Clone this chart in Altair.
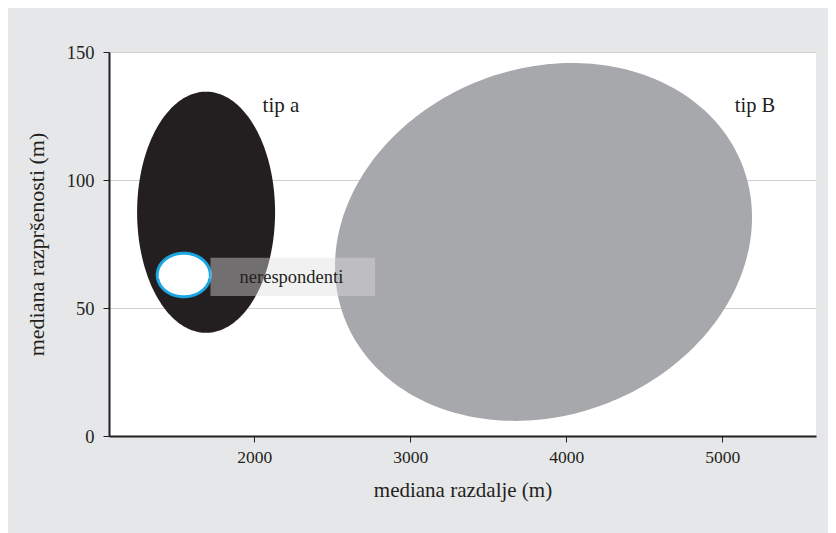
import altair as alt
import numpy as np
import pandas as pd

# ---- data ----
x_ticks = [2000, 3000, 4000, 5000]
y_ticks = [0, 50, 100, 150]
x_domain = [1070, 5600]
y_domain = [0, 150]

shape_names = ["tip B", "tip a", "nerespondenti"]
center_x = [3854, 1692, 1549]
center_y = [75.8, 87.4, 62.9]
radius_x = [1336, 442, 170]
radius_y = [69.9, 47.1, 8.5]
tilt = [0.137, 0.0, 0.0]  # sine of the skew of each ellipse

label_names = ["tip a", "tip B", "nerespondenti"]
label_x = [2172, 5209, 2239]
label_y = [129, 129, 62.1]

box_x = [1720]
box_x2 = [2775]
box_y = [54.7]
box_y2 = [69.6]

FONT = "Liberation Serif"
INK = "#231f20"


def ellipse_frame(i):
    t = np.linspace(np.pi, 0, 121)
    u = np.cos(t)
    s = np.sqrt(np.clip(1 - u ** 2, 0, 1))
    sin_p = tilt[i]
    cos_p = np.sqrt(1 - sin_p ** 2)
    x = center_x[i] + radius_x[i] * u
    lo = center_y[i] + radius_y[i] * (u * sin_p - s * cos_p)
    hi = center_y[i] + radius_y[i] * (u * sin_p + s * cos_p)
    return pd.DataFrame({"x": x, "lo": lo, "hi": hi, "name": shape_names[i]})


xs = alt.Scale(domain=x_domain, nice=False, zero=False)
ys = alt.Scale(domain=y_domain, nice=False, zero=False)

x_axis = alt.Axis(values=x_ticks, format="d", grid=False, title="mediana razdalje (m)",
                  labelFontSize=17.5, titleFontSize=21, labelPadding=6, titlePadding=14)
y_axis = alt.Axis(values=y_ticks, format="d", grid=True, title="mediana razpršenosti (m)",
                  labelFontSize=18.5, titleFontSize=22, labelPadding=9, titlePadding=18)


def enc(chart):
    return chart.encode(
        x=alt.X("x:Q", scale=xs, axis=x_axis),
        y=alt.Y("lo:Q", scale=ys, axis=y_axis),
        y2="hi:Q",
    )


gray = enc(alt.Chart(ellipse_frame(0)).mark_area(color="#a7a8ab"))
black = enc(alt.Chart(ellipse_frame(1)).mark_area(color=INK))
white = enc(alt.Chart(ellipse_frame(2)).mark_area(fill="#ffffff", stroke="#1aa7e1", strokeWidth=3))

box = alt.Chart(pd.DataFrame({"x": box_x, "x2": box_x2, "y": box_y, "y2": box_y2})).mark_rect(
    color="#dedede", opacity=0.42
).encode(
    x=alt.X("x:Q", scale=xs, axis=x_axis),
    x2="x2:Q",
    y=alt.Y("y:Q", scale=ys, axis=y_axis),
    y2="y2:Q",
)

lab_df = pd.DataFrame({"x": label_x, "y": label_y, "t": label_names,
                       "size": [21, 20.5, 18.5]})
labels = alt.Chart(lab_df).mark_text(font=FONT, color=INK, align="center", baseline="middle").encode(
    x=alt.X("x:Q", scale=xs, axis=x_axis),
    y=alt.Y("y:Q", scale=ys, axis=y_axis),
    text="t:N",
    size=alt.Size("size:Q", scale=None, legend=None),
)

chart = alt.layer(gray, black, white, box, labels).properties(
    width=707,
    height=384,
    padding={"left": 101, "top": 44, "right": 12, "bottom": 97},
    autosize=alt.AutoSizeParams(type="none"),
    background="#e6e7e8",
).configure_view(
    fill="#ffffff", stroke=None
).configure_axis(
    labelFont=FONT, titleFont=FONT, labelColor=INK, titleColor=INK,
    titleFontWeight="normal",
    domainColor=INK, domainWidth=2, tickColor=INK, tickWidth=1, tickSize=6,
    gridColor="#cfcfcf", gridWidth=1.2,
)

chart.save("out.html", embed_options={"renderer": "svg", "actions": False})
